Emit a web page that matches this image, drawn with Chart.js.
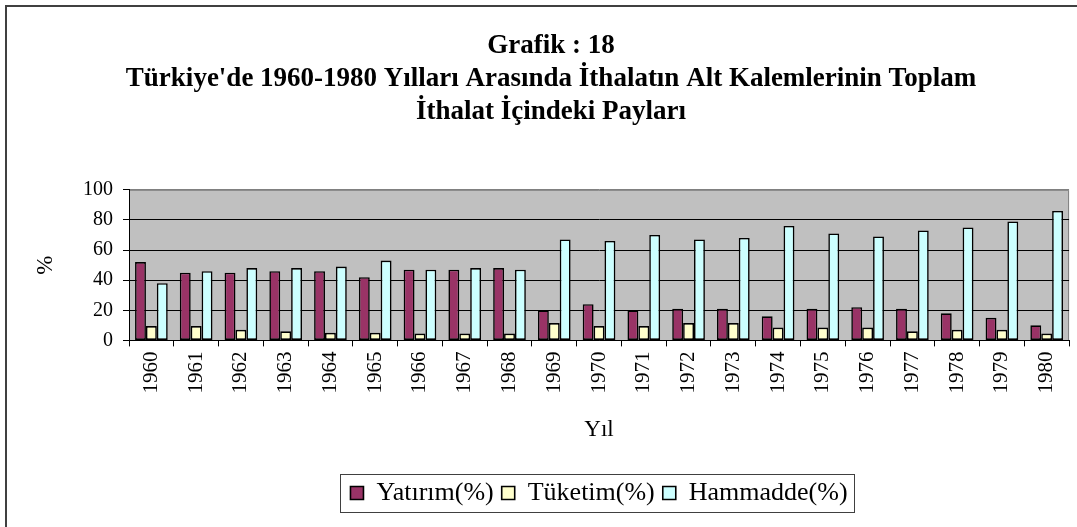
<!DOCTYPE html>
<html>
<head>
<meta charset="utf-8">
<script src="https://cdn.jsdelivr.net/npm/chart.js@4/dist/chart.umd.min.js"></script>
<style>
  html, body { margin: 0; padding: 0; background: #fff; }
  #wrap { width: 1077px; height: 527px; position: relative; }
</style>
</head>
<body>
<div id="wrap"><canvas id="c" width="1077" height="527"></canvas></div>
<script>
const years = ['1960','1961','1962','1963','1964','1965','1966','1967','1968','1969','1970','1971','1972','1973','1974','1975','1976','1977','1978','1979','1980'];
const yatirim = [52, 45, 45, 46, 46, 42, 47, 47, 48, 20, 24, 20, 21, 21, 16, 21, 22, 21, 18, 15, 10];
const tuketim = [9.5, 9.5, 7, 6, 5, 5, 4.5, 4.5, 4.5, 11.5, 9.5, 9.5, 11.5, 11.5, 8.5, 8.5, 8.5, 6, 7, 7, 4.5];
const hammadde = [38, 46, 48, 48, 49, 53, 47, 48, 47, 67, 66, 70, 67, 68, 76, 71, 69, 73, 75, 79, 86];
const yTicks = [0, 20, 40, 60, 80, 100];

const FONT = "'Liberation Serif', 'Times New Roman', serif";

const decor = {
  id: 'decor',
  beforeDraw(chart) {
    const ctx = chart.ctx, a = chart.chartArea;
    ctx.save();
    ctx.fillStyle = '#ffffff';
    ctx.fillRect(0, 0, chart.width, chart.height);
    ctx.fillStyle = '#C0C0C0';
    ctx.fillRect(a.left, a.top, a.right - a.left, a.bottom - a.top);
    ctx.strokeStyle = '#808080';
    ctx.lineWidth = 1;
    ctx.beginPath();
    ctx.moveTo(a.left, a.top + 0.5);
    ctx.lineTo(a.right - 0.5, a.top + 0.5);
    ctx.lineTo(a.right - 0.5, a.bottom);
    ctx.stroke();
    ctx.restore();
  },
  afterDraw(chart) {
    const ctx = chart.ctx;
    ctx.save();
    ctx.strokeStyle = '#404040';
    ctx.lineWidth = 2;
    ctx.beginPath();
    ctx.moveTo(6, chart.height + 2);
    ctx.lineTo(6, 6);
    ctx.lineTo(chart.width + 2, 6);
    ctx.stroke();
    const boxes = chart.legend.legendHitBoxes;
    if (boxes && boxes.length) {
      let l = Infinity, r = -Infinity, t = Infinity, b = -Infinity;
      boxes.forEach(h => { l = Math.min(l, h.left); r = Math.max(r, h.left + h.width); t = Math.min(t, h.top); b = Math.max(b, h.top + h.height); });
      ctx.strokeStyle = '#404040';
      ctx.lineWidth = 1;
      ctx.strokeRect(Math.round(l - 10) + 0.5, Math.round(t - 6) + 0.5, Math.round(r - l + 17), Math.round(b - t + 12));
    }
    ctx.restore();
  }
};

new Chart(document.getElementById('c'), {
  type: 'bar',
  data: {
    labels: years,
    datasets: [
      { label: 'Yatırım(%)', data: yatirim, backgroundColor: '#993366', borderColor: '#000', borderWidth: 1.6, borderSkipped: false },
      { label: 'Tüketim(%)', data: tuketim, backgroundColor: '#FFFFCC', borderColor: '#000', borderWidth: 1.6, borderSkipped: false },
      { label: 'Hammadde(%)', data: hammadde, backgroundColor: '#CCFFFF', borderColor: '#000', borderWidth: 1.6, borderSkipped: false }
    ]
  },
  options: {
    responsive: false,
    animation: false,
    devicePixelRatio: 1,
    layout: { padding: { left: 30, right: 5, top: 0, bottom: 11 } },
    datasets: { bar: { barPercentage: 1.0, categoryPercentage: 0.73 } },
    plugins: {
      title: {
        display: true,
        text: ['Grafik : 18', "Türkiye'de 1960-1980 Yılları Arasında İthalatın Alt Kalemlerinin Toplam", 'İthalat İçindeki Payları'],
        color: '#000',
        font: { family: FONT, size: 27, weight: 'bold', lineHeight: 1.22 },
        padding: { top: 30, bottom: 61 }
      },
      legend: {
        display: true,
        position: 'bottom',
        fullSize: false,
        labels: {
          color: '#000',
          font: { family: FONT, size: 26 },
          boxWidth: 13, boxHeight: 13,
          padding: 8,
          useBorderRadius: false
        }
      },
      tooltip: { enabled: false }
    },
    scales: {
      x: {
        offset: true,
        grid: { offset: true, drawOnChartArea: false, tickLength: 6, color: '#000', tickColor: '#000' },
        border: { display: true, color: '#000', width: 1 },
        ticks: { color: '#000', font: { family: FONT, size: 21 }, minRotation: 90, maxRotation: 90, padding: 5, autoSkip: false },
        title: { display: true, text: 'Yıl', color: '#000', font: { family: FONT, size: 23 }, padding: { top: 18, bottom: 28 } }
      },
      y: {
        min: 0, max: 100,
        afterBuildTicks(scale) { scale.ticks = yTicks.map(v => ({ value: v })); },
        afterFit(scale) { scale.width = 99; },
        grid: {
          drawOnChartArea: true,
          tickLength: 6,
          color: ctx => (ctx.tick && ctx.tick.value === 100) ? '#808080' : '#000',
          tickColor: '#000',
          lineWidth: 1
        },
        border: { display: true, color: '#000', width: 1 },
        ticks: { color: '#000', font: { family: FONT, size: 20 }, padding: 10 },
        title: { display: true, text: '%', color: '#000', font: { family: FONT, size: 23 }, padding: { top: 2, bottom: 0 } }
      }
    }
  },
  plugins: [decor]
});
</script>
</body>
</html>
